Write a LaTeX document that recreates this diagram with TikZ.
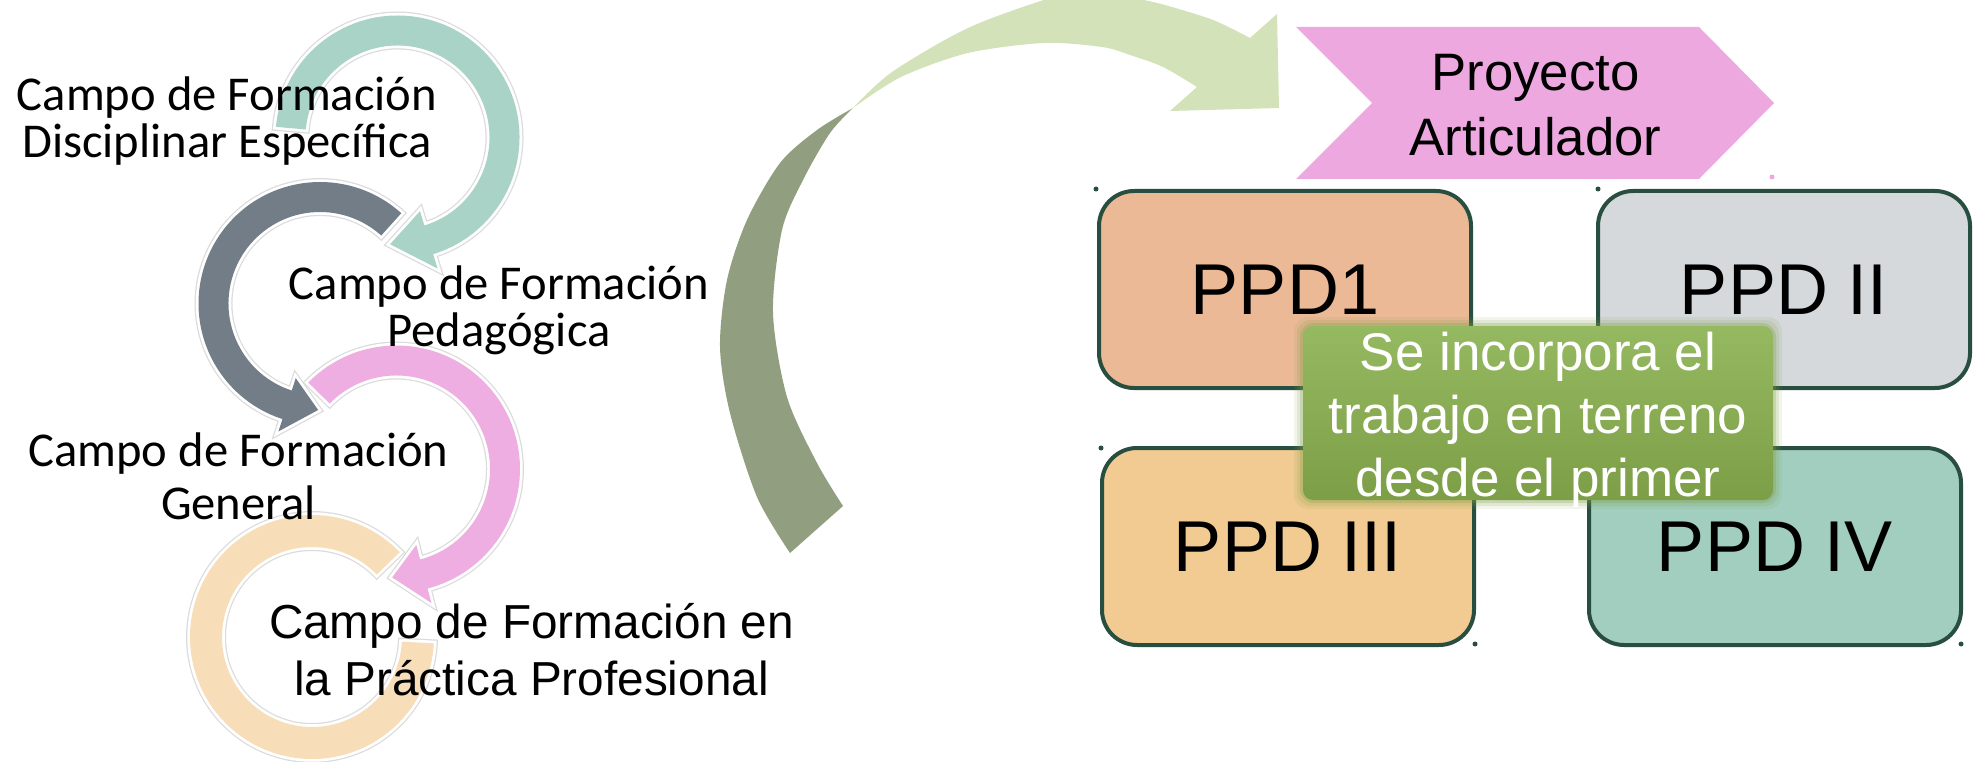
\documentclass[tikz,border=0pt]{standalone}
\usepackage{fontspec}
\setmainfont{Liberation Sans}
\newfontfamily\gillfont{Carlito}
\usetikzlibrary{calc}

\definecolor{tealring}{HTML}{A8D3C6}
\definecolor{grayring}{HTML}{737D88}
\definecolor{pinkring}{HTML}{EFAEE2}
\definecolor{peachring}{HTML}{F7DDB8}
\definecolor{olivearrow}{HTML}{919E7F}
\definecolor{lightarrow}{HTML}{D3E2B9}
\definecolor{chevpink}{HTML}{EDA8E0}
\definecolor{ppdorange}{HTML}{EBB996}
\definecolor{ppdgray}{HTML}{D5D9DC}
\definecolor{ppdyellow}{HTML}{F2CB92}
\definecolor{ppdteal}{HTML}{A2CEC0}
\definecolor{ppdline}{HTML}{284E40}
\definecolor{notetop}{HTML}{95B961}
\definecolor{notebottom}{HTML}{7C9E46}

% colour, centre, radius, half width, start, end
\newcommand{\ringband}[6]{%
  \path[band, fill=#1] ($(#2)+(#5:{#3+#4})$) arc[start angle=#5, end angle=#6, radius={#3+#4}]
    -- ($(#2)+(#6:{#3-#4})$) arc[start angle=#6, end angle=#5, radius={#3-#4}] -- cycle;}
% colour, centre, radius, half width, start, head base, tip, barb
\newcommand{\ringarrow}[8]{%
  \path[band, fill=#1] ($(#2)+(#5:{#3+#4})$) arc[start angle=#5, end angle=#6, radius={#3+#4}]
    -- ($(#2)+(#6:{#3+#4+#8})$) -- ($(#2)+(#7:#3)$) -- ($(#2)+(#6:{#3-#4-#8})$)
    -- ($(#2)+(#6:{#3-#4})$) arc[start angle=#6, end angle=#5, radius={#3-#4}] -- cycle;}

\begin{document}
\begin{tikzpicture}[x=1pt, y=-1pt,
  band/.style={line join=round, preaction={draw=black!14, line width=8pt}, preaction={draw=white, line width=5.5pt}},
  campo/.style={font=\gillfont\fontsize{48.6}{47}\selectfont, align=center, inner sep=0pt},
  ppd/.style={draw=ppdline, line width=4pt, rounded corners=35pt, minimum width=372pt, minimum height=197pt, font=\fontsize{72}{86}\selectfont, inner sep=0pt},
  dot/.style={circle, fill=ppdline, inner sep=0pt, minimum size=5pt}]
\useasboundingbox (0,0) rectangle (1980,762);

\coordinate (cT) at (397.5,137.5);
\coordinate (cG) at (320,303.5);
\coordinate (cP) at (396.5,469);
\coordinate (cO) at (312,637);

\ringband{peachring}{cO}{106}{16}{-44}{-357}
\ringarrow{pinkring}{cP}{108.5}{15}{224.4}{435.4}{452.3}{15}
\ringarrow{grayring}{cG}{106.5}{15}{-48}{-252}{-269}{13}
\ringarrow{tealring}{cT}{107}{15}{185}{433}{454}{15}

\node[campo] (disc) at (227,121.5) {Campo de Formación\\Disciplinar Específica};
\node[campo] (peda) at (499,310) {Campo de Formación\\Pedagógica};
\node[campo, font=\gillfont\fontsize{48.6}{53}\selectfont] (gene) at (238.5,476.5) {Campo de Formación\\General};
\node[align=center, inner sep=0pt, font=\fontsize{47.7}{57}\selectfont] (prac) at (531.5,650) {Campo de Formación en\\la Práctica Profesional};

% big curved arrow
\fill[olivearrow] plot[smooth] coordinates {(853,108) (817,130) (780,163) (747,220) (727,280) (720,347) (730,413) (757,497) (790,553)}
  -- (843,506) -- plot[smooth] coordinates {(843,506) (817,463) (787,397) (773,313) (782,230) (803,180) (830,133) (853,108)} -- cycle;
\fill[lightarrow] plot[smooth] coordinates {(853,108) (892,72) (968,28) (1050,-2) (1095,-12) (1135,-2) (1165,5) (1213,20) (1250,38)}
  -- (1277,14) -- (1279,108) -- (1170,111) -- (1197,87)
  -- plot[smooth] coordinates {(1197,87) (1163,67) (1130,55) (1102,47) (1044,43) (968,53) (901,77) (853,108)} -- cycle;

% chevron
\fill[chevpink] (1296,27) -- (1699,27) -- (1774,103) -- (1699,179) -- (1296,179) -- (1372,103) -- cycle;
\node[align=center, inner sep=0pt, font=\fontsize{52.7}{65}\selectfont] (proy) at (1535.5,105.5) {Proyecto\\Articulador};

\node[ppd, fill=ppdorange] (ppdA) at (1285,289.5) {PPD1};
\node[ppd, fill=ppdgray] (ppdB) at (1784,289.5) {PPD II};
\node[ppd, fill=ppdyellow] (ppdC) at (1288,546.5) {PPD III};
\node[ppd, fill=ppdteal] (ppdD) at (1775,546.5) {PPD IV};

\node[dot] (d1) at (1096,189) {};
\node[dot] (d2) at (1598,189) {};
\node[dot, fill=chevpink] (d3) at (1772,177) {};
\node[dot] (d4) at (1101,448) {};
\node[dot] (d5) at (1475,644) {};
\node[dot] (d6) at (1961,644) {};

% note with soft edge
\coordinate (noteNW) at (1303,326);
\coordinate (noteSE) at (1773,500);
\foreach \e/\o in {9/0.10, 6/0.15, 3/0.25} {
  \fill[notebottom, opacity=\o, rounded corners=14pt] ($(noteNW)+(-\e,-\e)$) rectangle ($(noteSE)+(\e,\e)$);
}
\shade[rounded corners=10pt, top color=notetop, bottom color=notebottom] (noteNW) rectangle (noteSE);
\node[inner sep=0pt, text=white, align=center, font=\fontsize{53}{63}\selectfont] (note) at (1538,420)
  {Se incorpora el\\trabajo en terreno\\desde el primer};
\end{tikzpicture}
\end{document}
